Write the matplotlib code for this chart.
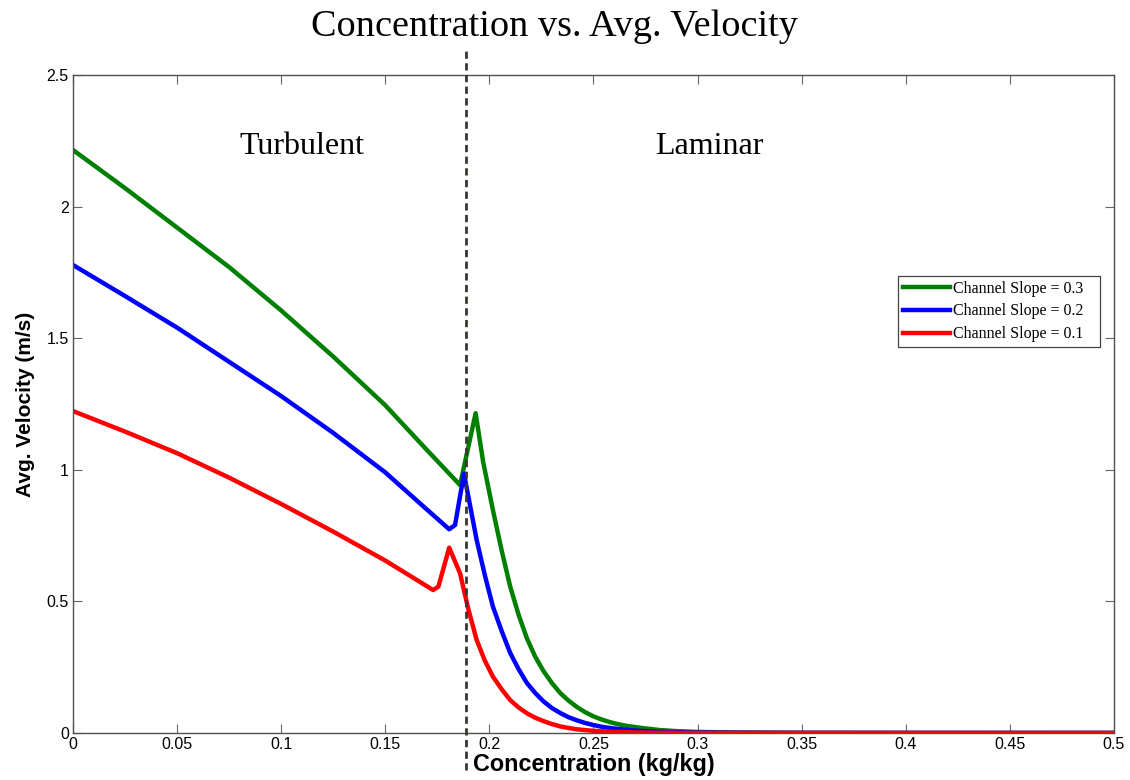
import matplotlib
matplotlib.use("Agg")
import matplotlib.pyplot as plt
import matplotlib.transforms as mtransforms

# ---- data ----
conc_s03 = [0.0, 0.025, 0.05, 0.075, 0.1, 0.125, 0.15, 0.17, 0.1859, 0.1934, 0.197, 0.2017,
            0.206, 0.21, 0.214, 0.218, 0.222, 0.226, 0.230, 0.234, 0.238, 0.242, 0.246, 0.25,
            0.254, 0.258, 0.262, 0.266, 0.274, 0.282, 0.29, 0.3, 0.32, 0.35, 0.4, 0.5]
vel_s03 = [2.215, 2.07, 1.92, 1.77, 1.605, 1.43, 1.245, 1.075, 0.942, 1.215, 1.03, 0.847,
           0.69, 0.556, 0.45, 0.36, 0.29, 0.235, 0.19, 0.152, 0.123, 0.099, 0.079, 0.063,
           0.051, 0.041, 0.033, 0.027, 0.018, 0.011, 0.007, 0.004, 0.0015, 0.0004, 0.0, 0.0]

conc_s02 = [0.0, 0.025, 0.05, 0.075, 0.1, 0.125, 0.15, 0.165, 0.1807, 0.1835, 0.1878, 0.1939,
            0.1978, 0.2017, 0.206, 0.21, 0.214, 0.218, 0.222, 0.226, 0.230, 0.234, 0.238,
            0.242, 0.246, 0.25, 0.255, 0.26, 0.27, 0.28, 0.29, 0.3, 0.35, 0.5]
vel_s02 = [1.778, 1.66, 1.54, 1.41, 1.28, 1.14, 0.99, 0.884, 0.774, 0.79, 0.985, 0.733,
           0.6, 0.48, 0.385, 0.304, 0.243, 0.19, 0.152, 0.12, 0.095, 0.076, 0.06,
           0.048, 0.038, 0.03, 0.022, 0.017, 0.009, 0.005, 0.003, 0.0015, 0.0002, 0.0]

conc_s01 = [0.0, 0.025, 0.05, 0.075, 0.1, 0.125, 0.15, 0.173, 0.1755, 0.1807, 0.1859, 0.1899,
            0.1939, 0.1978, 0.2017, 0.206, 0.21, 0.214, 0.218, 0.222, 0.226, 0.230, 0.234,
            0.238, 0.242, 0.246, 0.25, 0.255, 0.26, 0.27, 0.28, 0.3, 0.5]
vel_s01 = [1.223, 1.145, 1.063, 0.97, 0.87, 0.765, 0.655, 0.543, 0.556, 0.704, 0.607, 0.47,
           0.353, 0.275, 0.214, 0.165, 0.125, 0.097, 0.075, 0.058, 0.045, 0.034, 0.025,
           0.019, 0.014, 0.011, 0.008, 0.006, 0.004, 0.002, 0.001, 0.0002, 0.0]

series_labels = ["Channel Slope = 0.3", "Channel Slope = 0.2", "Channel Slope = 0.1"]
transition_conc = 0.189
x_ticks = [0, 0.05, 0.1, 0.15, 0.2, 0.25, 0.3, 0.35, 0.4, 0.45, 0.5]
x_tick_labels = ["0", "0.05", "0.1", "0.15", "0.2", "0.25", "0.3", "0.35", "0.4", "0.45", "0.5"]
y_ticks = [0, 0.5, 1, 1.5, 2, 2.5]
y_tick_labels = ["0", "0.5", "1", "1.5", "2", "2.5"]

# ---- figure ----
fig = plt.figure(figsize=(11.3, 7.8), dpi=100)
ax = fig.add_axes([0.0646, 0.0603, 0.9212, 0.8436])

lw = 3.2
ax.plot(conc_s03, vel_s03, color="#008000", lw=lw, label=series_labels[0], solid_joinstyle="round")
ax.plot(conc_s02, vel_s02, color="#0000ff", lw=lw, label=series_labels[1], solid_joinstyle="round")
ax.plot(conc_s01, vel_s01, color="#ff0000", lw=lw, label=series_labels[2], solid_joinstyle="round")

trans = mtransforms.blended_transform_factory(ax.transData, ax.transAxes)
ax.plot([transition_conc, transition_conc], [-0.056, 1.038], transform=trans,
        color="#3a3530", lw=2.0, ls=(0, (2.6, 1.6)), clip_on=False, zorder=5)

ax.set_xlim(0, 0.5)
ax.set_ylim(0, 2.5)
ax.set_xticks(x_ticks)
ax.set_xticklabels(x_tick_labels)
ax.set_yticks(y_ticks)
ax.set_yticklabels(y_tick_labels)
ax.tick_params(direction="in", top=True, right=True, length=6.5, width=0.8,
               color="#666666", labelsize=11.5, pad=3)
for lab in ax.get_xticklabels() + ax.get_yticklabels():
    lab.set_family("Liberation Sans")
for sp in ax.spines.values():
    sp.set_color("#505050")
    sp.set_linewidth(1.0)

ax.set_xlabel("Concentration (kg/kg)", family="Liberation Sans", fontweight="bold",
              fontsize=16.8, labelpad=0.5)
ax.set_ylabel("Avg. Velocity (m/s)", family="Liberation Sans", fontweight="bold",
              fontsize=15, labelpad=8)

fig.text(0.491, 0.966, "Concentration vs. Avg. Velocity", family="Liberation Serif",
         fontsize=27.5, ha="center", va="center")

ax.text(0.110, 2.23, "Turbulent", family="Liberation Serif", fontsize=23,
        ha="center", va="center")
ax.text(0.3055, 2.23, "Laminar", family="Liberation Serif", fontsize=23,
        ha="center", va="center")

leg = ax.legend(loc="upper right", bbox_to_anchor=(0.9866, 0.6945), borderaxespad=0,
                prop={"family": "Liberation Serif", "size": 11.5}, handlelength=3.0,
                handletextpad=0.15, labelspacing=0.42, borderpad=0.3,
                fancybox=False, framealpha=1, edgecolor="#444444")
leg.get_frame().set_linewidth(0.9)
# extra right-hand padding inside the legend frame, as in the reference
for t in leg.get_texts():
    t.set_text(t.get_text() + "   ")

fig.savefig("out.png", dpi=100)
